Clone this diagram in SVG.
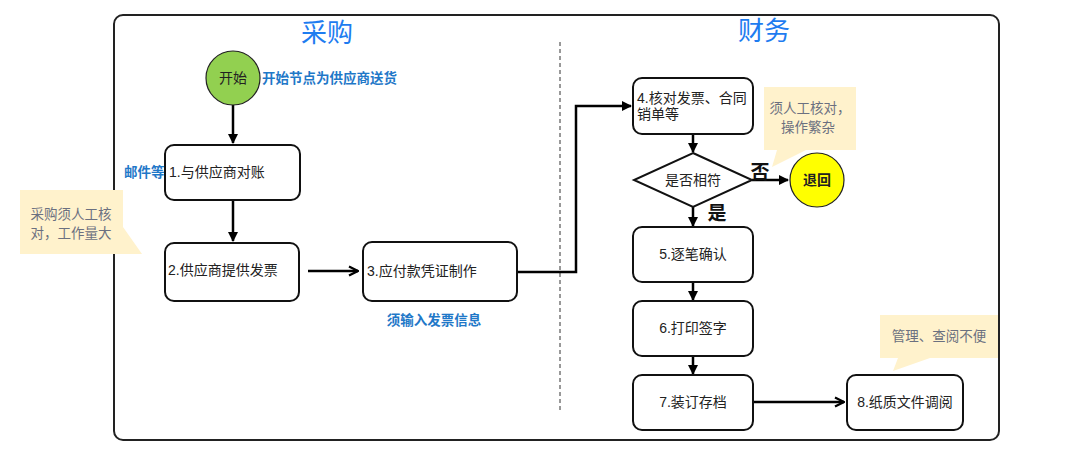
<svg xmlns="http://www.w3.org/2000/svg" width="1080" height="456" viewBox="0 0 1080 456">
<defs>
<style>
.box{fill:#fff;stroke:#111;stroke-width:2}
.t{font-family:"Liberation Sans","Noto Sans CJK SC",sans-serif;font-size:14px;fill:#222}
.lbl{font-family:"Liberation Sans","Noto Sans CJK SC",sans-serif;font-size:13.5px;font-weight:bold;fill:#1F78C8}
.title{font-family:"Noto Sans CJK SC",sans-serif;font-size:26px;fill:#1E7CF0}
.note{fill:#FFF2CC}
.nt{font-family:"Noto Sans CJK SC",sans-serif;font-size:13.5px;fill:#6B7080}
.con{fill:none;stroke:#000;stroke-width:2.5}
.big{font-family:"Noto Sans CJK SC",sans-serif;font-size:19px;font-weight:bold;fill:#111}
</style>
<marker id="tri" viewBox="0 0 10 10" refX="9" refY="5" markerWidth="4" markerHeight="4" orient="auto" markerUnits="strokeWidth"><path d="M0,0 L10,5 L0,10 Z" fill="#000"/></marker>
<marker id="chev" viewBox="0 0 10 10" refX="9" refY="5" markerWidth="4.5" markerHeight="4.5" orient="auto" markerUnits="strokeWidth"><path d="M1,1 L9,5 L1,9" fill="none" stroke="#000" stroke-width="2"/></marker>
</defs>
<rect width="1080" height="456" fill="#fff"/>
<rect x="114" y="15" width="885" height="425" rx="9" fill="#fff" stroke="#222" stroke-width="2"/>
<line x1="560" y1="42" x2="560" y2="412" stroke="#333" stroke-width="1" stroke-dasharray="4,3"/>
<text class="title" x="327" y="42" text-anchor="middle">采购</text>
<text class="title" x="764" y="40" text-anchor="middle">财务</text>

<g id="notes">
<path class="note" d="M20,190 H123 V227 L142,254 H123 H20 Z"/>
<text class="nt" x="71" y="219" text-anchor="middle">采购须人工核</text>
<text class="nt" x="71" y="238" text-anchor="middle">对，工作量大</text>
<path class="note" d="M764,87 H856 V150 H806 L772,167 L777,150 H764 Z"/>
<text class="nt" x="810" y="113" text-anchor="middle">须人工核对，</text>
<text class="nt" x="808" y="132" text-anchor="middle">操作繁杂</text>
<path class="note" d="M880,315 H998 V358 H930 L893,371 L898,358 H880 Z"/>
<text class="nt" x="939" y="341" text-anchor="middle">管理、查阅不便</text>
</g>

<g id="connectors">
<line class="con" x1="233" y1="105" x2="233" y2="143" marker-end="url(#tri)"/>
<line class="con" x1="233" y1="200" x2="233" y2="241" marker-end="url(#tri)"/>
<line class="con" x1="308" y1="271" x2="358" y2="271" marker-end="url(#chev)"/>
<polyline class="con" points="517,272 576,272 576,106 631,106" marker-end="url(#tri)"/>
<line class="con" x1="693" y1="134" x2="693" y2="152" marker-end="url(#tri)"/>
<line class="con" x1="752" y1="180" x2="788" y2="180" marker-end="url(#tri)"/>
<line class="con" x1="693" y1="207" x2="693" y2="226" marker-end="url(#tri)"/>
<line class="con" x1="693" y1="282" x2="693" y2="300" marker-end="url(#tri)"/>
<line class="con" x1="693" y1="356" x2="693" y2="374" marker-end="url(#tri)"/>
<line class="con" x1="753" y1="402" x2="844" y2="402" marker-end="url(#chev)"/>
</g>

<g id="start">
<circle cx="233" cy="78" r="27" fill="#92D050" stroke="#222" stroke-width="1.2"/>
<text class="t" x="233" y="83" text-anchor="middle">开始</text>
<text class="lbl" x="262" y="83">开始节点为供应商送货</text>
</g>
<g id="n1">
<rect class="box" x="165" y="145" width="135" height="55" rx="9"/>
<text class="t" x="169" y="177">1.与供应商对账</text>
<text class="lbl" x="124" y="177">邮件等</text>
</g>
<g id="n2">
<rect class="box" x="165" y="243" width="134" height="58" rx="9"/>
<text class="t" x="168" y="275">2.供应商提供发票</text>
</g>
<g id="n3">
<rect class="box" x="363" y="242" width="154" height="59" rx="9"/>
<text class="t" x="367" y="276">3.应付款凭证制作</text>
<text class="lbl" x="434" y="325" text-anchor="middle">须输入发票信息</text>
</g>
<g id="n4">
<rect class="box" x="633" y="78" width="120" height="56" rx="9"/>
<text class="t" x="637" y="103">4.核对发票、合同</text>
<text class="t" x="637" y="119">销单等</text>
</g>
<g id="decision">
<polygon points="693,153 752,180 693,207 634,180" fill="#fff" stroke="#111" stroke-width="2"/>
<text class="t" x="693" y="185" text-anchor="middle">是否相符</text>
<text class="big" x="760" y="179" text-anchor="middle">否</text>
<text class="big" x="717" y="220" text-anchor="middle">是</text>
</g>
<g id="reject">
<circle cx="817" cy="180" r="27" fill="#FFFF00" stroke="#222" stroke-width="1.2"/>
<text class="t" x="817" y="185" text-anchor="middle" font-weight="bold">退回</text>
</g>
<g id="n5">
<rect class="box" x="633" y="227" width="120" height="55" rx="9"/>
<text class="t" x="693" y="259" text-anchor="middle">5.逐笔确认</text>
</g>
<g id="n6">
<rect class="box" x="633" y="301" width="120" height="55" rx="9"/>
<text class="t" x="693" y="333" text-anchor="middle">6.打印签字</text>
</g>
<g id="n7">
<rect class="box" x="633" y="375" width="120" height="55" rx="9"/>
<text class="t" x="693" y="407" text-anchor="middle">7.装订存档</text>
</g>
<g id="n8">
<rect class="box" x="847" y="375" width="116" height="55" rx="9"/>
<text class="t" x="905" y="407" text-anchor="middle">8.纸质文件调阅</text>
</g>
</svg>
